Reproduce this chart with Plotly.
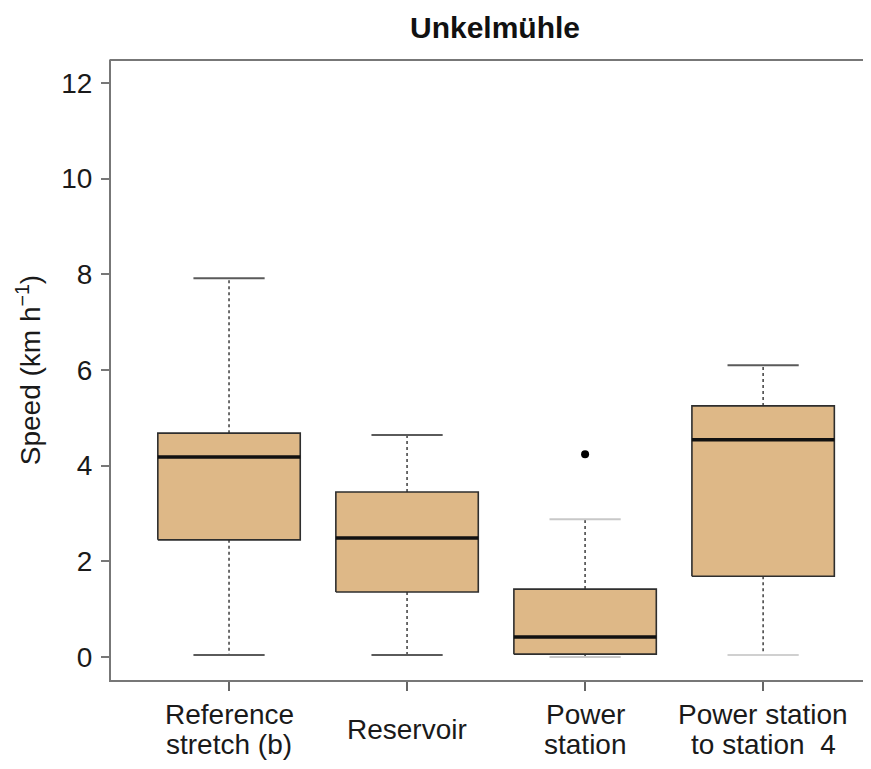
import plotly.graph_objects as go

# ---- data ----
categories = ["Reference<br>stretch (b)", "Reservoir", "Power<br>station", "Power station<br>to station  4"]
lower_whisker = [0.04, 0.04, 0.00, 0.04]
q1 = [2.45, 1.36, 0.06, 1.69]
median = [4.18, 2.49, 0.42, 4.54]
q3 = [4.68, 3.45, 1.42, 5.25]
upper_whisker = [7.92, 4.64, 2.88, 6.10]
outlier_group = [3]
outlier_value = [4.24]
y_ticks = [0, 2, 4, 6, 8, 10, 12]

# ---- style ----
FONT = "Liberation Sans, Arial, sans-serif"
BOX_W = 0.8
CAP_W = 0.4
FILL = "#DEB887"
upper_cap_colors = ["#5a5a5a", "#5a5a5a", "#c8c8c8", "#5a5a5a"]
lower_cap_colors = ["#5a5a5a", "#5a5a5a", "#c8c8c8", "#d0d0d0"]
LABEL_SIZE = 28
LINE_GAP = 30  # px between label lines

W, H = 855, 753  # page body adds 8px margins -> exactly fills 871 x 769

fig = go.Figure()

for k in range(len(categories)):
    i = k + 1
    h = BOX_W / 2
    c = CAP_W / 2
    fig.add_trace(go.Scatter(
        x=[i, i, None, i, i],
        y=[q3[k], upper_whisker[k], None, q1[k], lower_whisker[k]],
        mode="lines", line=dict(color="#4a4a4a", width=1.6, dash="3px,3px"),
        hoverinfo="skip", showlegend=False))
    fig.add_trace(go.Scatter(
        x=[i - c, i + c], y=[upper_whisker[k]] * 2, mode="lines",
        line=dict(color=upper_cap_colors[k], width=2), hoverinfo="skip", showlegend=False))
    fig.add_trace(go.Scatter(
        x=[i - c, i + c], y=[lower_whisker[k]] * 2, mode="lines",
        line=dict(color=lower_cap_colors[k], width=2), hoverinfo="skip", showlegend=False))
    fig.add_trace(go.Scatter(
        x=[i - h, i + h, i + h, i - h, i - h],
        y=[q1[k], q1[k], q3[k], q3[k], q1[k]],
        mode="lines", fill="toself", fillcolor=FILL,
        line=dict(color="#2e2e2e", width=1.6), hoverinfo="skip", showlegend=False))
    fig.add_trace(go.Scatter(
        x=[i - h, i + h], y=[median[k]] * 2, mode="lines",
        line=dict(color="#111111", width=3.5), hoverinfo="skip", showlegend=False))

fig.add_trace(go.Scatter(
    x=outlier_group, y=outlier_value, mode="markers",
    marker=dict(color="black", size=8), showlegend=False))

# category labels, lines vertically centred around a common middle
CENTER = -49
for k, lab in enumerate(categories):
    lines = lab.split("<br>")
    n = len(lines)
    for j, line in enumerate(lines):
        shift = CENTER - (j - (n - 1) / 2) * LINE_GAP
        fig.add_annotation(
            x=k + 1, xref="x", y=0, yref="paper", yshift=shift,
            text=line, showarrow=False, yanchor="middle", xanchor="center",
            font=dict(family=FONT, size=LABEL_SIZE, color="#1a1a1a"))

# top frame line (R box is open on the cropped right side)
fig.add_shape(type="line", xref="paper", yref="paper", x0=-0.002, x1=1.0, y0=1, y1=1,
              line=dict(color="#777777", width=2), layer="above")

fig.update_layout(
    width=W, height=H,
    margin=dict(l=103, r=0, t=52, b=81),
    paper_bgcolor="white", plot_bgcolor="white",
    title=dict(text="<b>Unkelmühle</b>", x=487 / W, xref="container", xanchor="center",
               y=1 - 19 / H, yref="container", yanchor="middle",
               font=dict(family=FONT, size=30, color="#111111")),
    xaxis=dict(range=[0.337, 4.561], tickvals=[1, 2, 3, 4], ticktext=[""] * 4,
               ticks="outside", ticklen=9, tickcolor="#666666", tickwidth=1.5,
               showline=True, linecolor="#777777", linewidth=2, mirror=False,
               showgrid=False, zeroline=False),
    yaxis=dict(range=[-0.48, 12.48], tickvals=y_ticks,
               ticks="outside", ticklen=8, tickcolor="#777777", tickwidth=1.5,
               showline=True, linecolor="#777777", linewidth=2, mirror=False,
               showgrid=False, zeroline=False, ticklabelstandoff=3,
               tickfont=dict(family=FONT, size=28, color="#1a1a1a"),
               title=dict(text="Speed (km h<sup>\u22121</sup>)", standoff=12,
                          font=dict(family=FONT, size=28, color="#1a1a1a"))),
)

fig.write_html("out.html")
